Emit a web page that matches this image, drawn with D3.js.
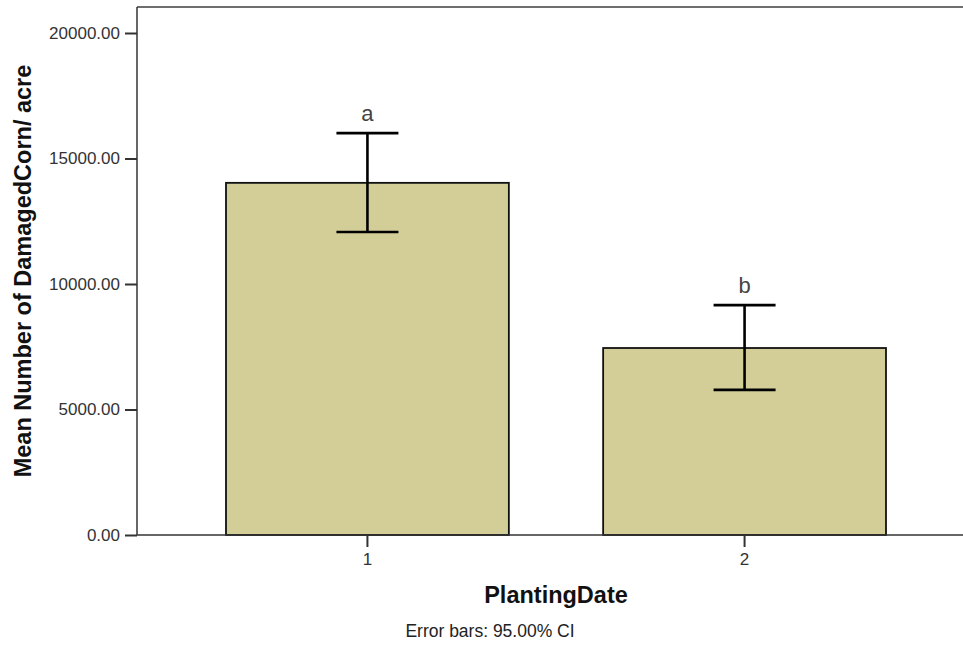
<!DOCTYPE html>
<html>
<head>
<meta charset="utf-8">
<script src="https://cdn.jsdelivr.net/npm/d3@7"></script>
<style>
  body { margin: 0; background: #fff; }
  svg { display: block; font-family: "Liberation Sans", Arial, sans-serif; }
</style>
</head>
<body>
<svg id="chart" width="963" height="645"></svg>
<script>
var categories = ["1", "2"];
var means = [14030, 7450];
var ciLow = [12070, 5780];
var ciHigh = [16010, 9160];
var letters = ["a", "b"];
var yTicks = [0, 5000, 10000, 15000, 20000];

var svg = d3.select("#chart"),
    plotLeft = 137, plotRight = 975, plotTop = 7, plotBottom = 535;

var x = d3.scaleBand()
    .domain(categories)
    .range([plotLeft, plotRight])
    .paddingInner(0.25)
    .paddingOuter(0.236);

var y = d3.scaleLinear()
    .domain([0, 20000])
    .range([plotBottom, 33]);

var data = categories.map(function (c, i) {
    return {cat: c, mean: means[i], lo: ciLow[i], hi: ciHigh[i], letter: letters[i]};
});

// frame: top border
svg.append("line")
    .attr("x1", plotLeft).attr("x2", 963)
    .attr("y1", plotTop).attr("y2", plotTop)
    .attr("stroke", "#6e6e6e").attr("stroke-width", 2);

// bars
svg.selectAll(".bar")
    .data(data)
    .enter().append("rect")
    .attr("class", "bar")
    .attr("x", function (d) { return x(d.cat); })
    .attr("width", x.bandwidth())
    .attr("y", function (d) { return y(d.mean); })
    .attr("height", function (d) { return plotBottom - y(d.mean); })
    .attr("fill", "#d3ce98")
    .attr("stroke", "#111")
    .attr("stroke-width", 1.8);

// error bars
var eb = svg.selectAll(".err")
    .data(data)
    .enter().append("g")
    .attr("class", "err")
    .attr("stroke", "#000")
    .attr("stroke-width", 2.6);

var cx = function (d) { return x(d.cat) + x.bandwidth() / 2; };

eb.append("line")
    .attr("x1", cx).attr("x2", cx)
    .attr("y1", function (d) { return y(d.lo); })
    .attr("y2", function (d) { return y(d.hi); });
eb.append("line")
    .attr("x1", function (d) { return cx(d) - 31; })
    .attr("x2", function (d) { return cx(d) + 31; })
    .attr("y1", function (d) { return y(d.hi); })
    .attr("y2", function (d) { return y(d.hi); });
eb.append("line")
    .attr("x1", function (d) { return cx(d) - 31; })
    .attr("x2", function (d) { return cx(d) + 31; })
    .attr("y1", function (d) { return y(d.lo); })
    .attr("y2", function (d) { return y(d.lo); });

// letters
svg.selectAll(".letter")
    .data(data)
    .enter().append("text")
    .attr("class", "letter")
    .attr("x", cx)
    .attr("y", function (d) { return y(d.hi) - 12; })
    .attr("text-anchor", "middle")
    .attr("fill", "#444")
    .style("font-size", "22px")
    .text(function (d) { return d.letter; });

// y axis
var yAxis = svg.append("g")
    .attr("transform", "translate(" + plotLeft + ",0)")
    .call(d3.axisLeft(y).tickValues(yTicks).tickSize(12).tickPadding(5)
        .tickFormat(function (d) { return d3.format(".2f")(d); }));
yAxis.select(".domain").attr("d", "M0," + plotTop + "V" + plotBottom).attr("stroke", "#333").attr("stroke-width", 1.5);
yAxis.selectAll(".tick line").attr("stroke", "#333").attr("stroke-width", 2);
yAxis.selectAll(".tick text").attr("fill", "#333").style("font-size", "17px");

// x axis
var xAxis = svg.append("g")
    .attr("transform", "translate(0," + plotBottom + ")")
    .call(d3.axisBottom(x).tickSize(12).tickPadding(6));
xAxis.select(".domain").attr("d", "M" + plotLeft + ",0H963").attr("stroke", "#333").attr("stroke-width", 1.5);
xAxis.selectAll(".tick line").attr("stroke", "#333").attr("stroke-width", 2);
xAxis.selectAll(".tick text").attr("fill", "#333").style("font-size", "17px");

// titles
svg.append("text")
    .attr("transform", "translate(31,271) rotate(-90)")
    .attr("text-anchor", "middle")
    .style("font-size", "23.5px")
    .style("font-weight", "bold")
    .attr("fill", "#111")
    .text("Mean Number of DamagedCorn/ acre");

svg.append("text")
    .attr("x", 556).attr("y", 603)
    .attr("text-anchor", "middle")
    .style("font-size", "23.5px")
    .style("font-weight", "bold")
    .attr("fill", "#111")
    .text("PlantingDate");

svg.append("text")
    .attr("x", 490).attr("y", 637)
    .attr("text-anchor", "middle")
    .style("font-size", "17.5px")
    .attr("fill", "#222")
    .text("Error bars: 95.00% CI");
</script>
</body>
</html>
